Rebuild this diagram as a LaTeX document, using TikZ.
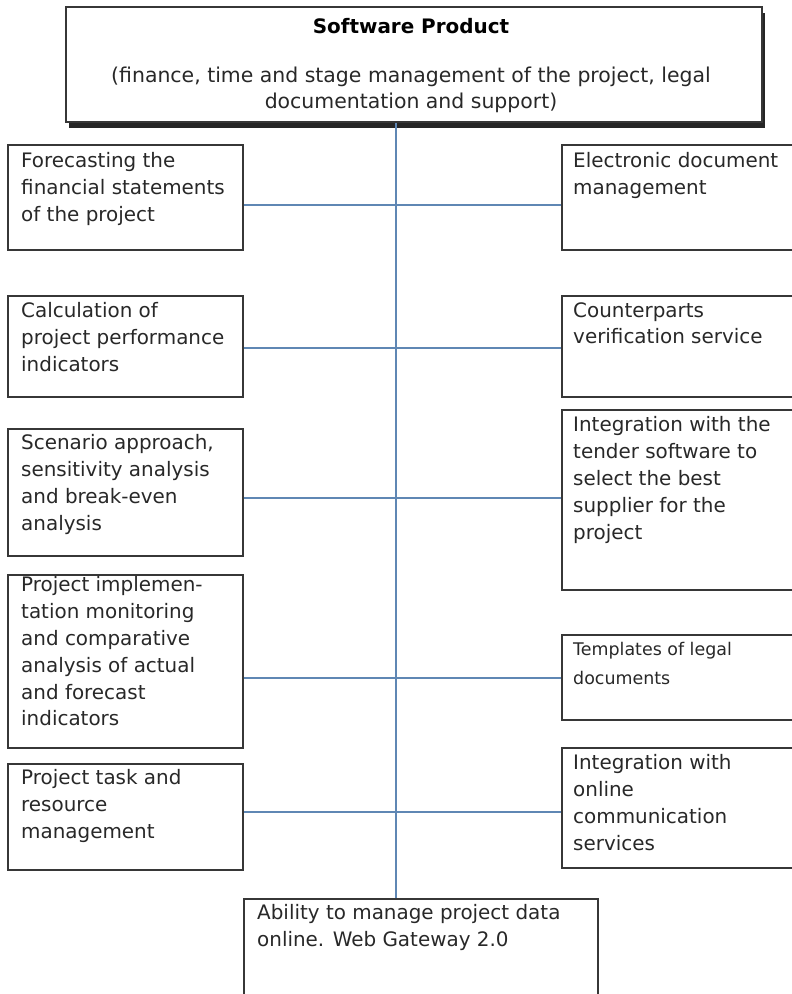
\documentclass[tikz,border=0pt]{standalone}
\usepackage{fontspec}
\setmainfont{DejaVu Sans}
\usetikzlibrary{positioning,shadows}
\definecolor{linkblue}{RGB}{95,135,180}
\definecolor{edgegray}{RGB}{55,55,55}
\definecolor{inkgray}{RGB}{40,40,40}

\begin{document}
\begin{tikzpicture}[
    x=1bp, y=-1bp,
    box/.style={draw=edgegray, line width=1.8bp, fill=white, anchor=north west, inner sep=0pt},
    txt/.style={anchor=north west, align=left, inner sep=0pt, text=inkgray,
                font=\fontsize{20}{27}\selectfont, execute at begin node=\strut},
    link/.style={draw=linkblue, line width=1.3bp}
]
\useasboundingbox (0,0) rectangle (792,994);

% head box
\node[box, minimum width=696bp, minimum height=115bp,
      drop shadow={shadow xshift=3bp, shadow yshift=-6bp, fill=black!85, opacity=1}] (prod) at (65,6) {};
\node[anchor=base, inner sep=0pt, text=black, font=\bfseries\fontsize{20}{26}\selectfont] (title) at (411,33) {Software Product};
\node[anchor=base, align=center, inner sep=0pt, text=inkgray, font=\fontsize{20.5}{26}\selectfont] (sub) at (411,108)
    {(finance, time and stage management of the project, legal\\documentation and support)};

% left column
\node[box, minimum width=235bp, minimum height=105bp] (l1) at (7,144) {};
\node[box, minimum width=235bp, minimum height=101bp] (l2) at (7,295) {};
\node[box, minimum width=235bp, minimum height=127bp] (l3) at (7,428) {};
\node[box, minimum width=235bp, minimum height=173bp] (l4) at (7,574) {};
\node[box, minimum width=235bp, minimum height=106bp] (l5) at (7,763) {};

% right column
\node[box, minimum width=240bp, minimum height=105bp] (r1) at (561,144) {};
\node[box, minimum width=240bp, minimum height=101bp] (r2) at (561,295) {};
\node[box, minimum width=240bp, minimum height=180bp] (r3) at (561,409) {};
\node[box, minimum width=240bp, minimum height=85bp]  (r4) at (561,634) {};
\node[box, minimum width=240bp, minimum height=120bp] (r5) at (561,747) {};

% bottom box
\node[box, minimum width=354bp, minimum height=120bp] (web) at (243,898) {};

% texts (strut height 18.9bp above the first baseline)
\node[txt] (l1t) at ([shift={(14,8.1)}]l1.north west) {Forecasting the\\financial statements\\of the project};
\node[txt] (l2t) at ([shift={(14,7.1)}]l2.north west) {Calculation of\\project performance\\indicators};
\node[txt] (l3t) at ([shift={(14,6.1)}]l3.north west) {Scenario approach,\\sensitivity analysis\\and break-even\\analysis};
\node[txt] (l4t) at ([shift={(14,2.1)}]l4.north west) {Project implemen-\\tation monitoring\\and comparative\\analysis of actual\\and forecast\\indicators};
\node[txt] (l5t) at ([shift={(14,6.1)}]l5.north west) {Project task and\\resource\\management};
\node[txt] (r1t) at ([shift={(12,8.1)}]r1.north west) {Electronic document\\management};
\node[txt] (r2t) at ([shift={(12,7.1)}]r2.north west) {Counterparts\\verification service};
\node[txt] (r3t) at ([shift={(12,7.1)}]r3.north west) {Integration with the\\tender software to\\select the best\\supplier for the\\project};
\node[txt, font=\fontsize{17.5}{29}\selectfont] (r4t) at ([shift={(12,7.7)}]r4.north west) {Templates of legal\\documents};
\node[txt] (r5t) at ([shift={(12,7.1)}]r5.north west) {Integration with\\online\\communication\\services};
\node[txt] (webt) at ([shift={(14,6.1)}]web.north west) {Ability to manage project data\\online. Web Gateway 2.0};

% connectors
\coordinate (spine) at (396,0);
\draw[link] (prod.south -| spine) -- (web.north -| spine);
\foreach \i/\y in {1/205,2/348,3/498,4/678,5/812}{
    \coordinate (row\i) at (0,\y);
    \draw[link] (l\i.east |- row\i) -- (r\i.west |- row\i);
}
\end{tikzpicture}
\end{document}
